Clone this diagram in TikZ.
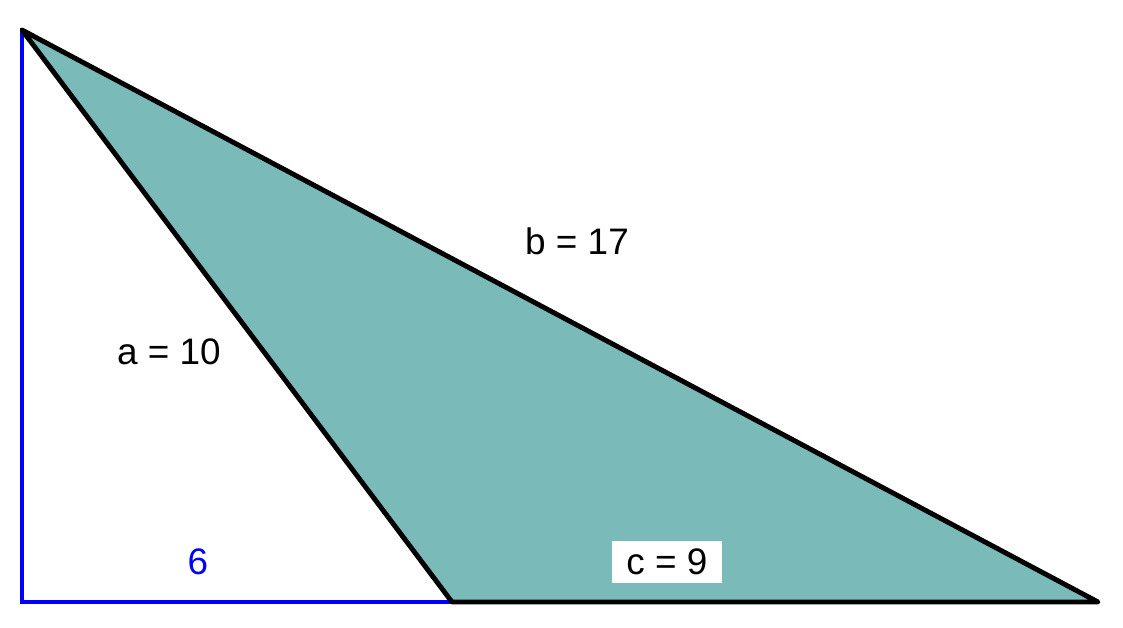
\documentclass[tikz,border=0pt]{standalone}
\usepackage{fontspec}
\setmainfont{Liberation Sans}
\definecolor{teal}{RGB}{122,187,186}
\tikzset{
  side/.style={line width=2.8pt,line cap=round},
  lbl/.style={font=\fontsize{21}{23}\selectfont,inner sep=2pt}
}

\begin{document}
\begin{tikzpicture}[x=0.02cm,y=-0.02cm]
  \useasboundingbox (0,0) rectangle (1123,627);

  %vertices
  \coordinate (top) at (22,30);
  \coordinate (corner) at (22,602);
  \coordinate (foot) at (452,602);
  \coordinate (right) at (1098,602);

  %shaded triangle
  \fill[teal] (top) -- (foot) -- (right) -- cycle;

  %right-angle legs
  \draw[side,blue] (top) -- (corner) -- (foot);

  %sides of the triangle
  \draw[side,black,line join=round] (top) -- (foot) -- (right) -- cycle;

  %labels
  \node[lbl] (labb) at (577,241) {b = 17};
  \node[lbl] (laba) at (169,352) {a = 10};
  \node[lbl,blue] (lab6) at (198,562) {6};
  \node[lbl,fill=white,minimum width=2.22cm,minimum height=0.84cm] (labc) at (667,562) {c = 9};
\end{tikzpicture}
\end{document}
